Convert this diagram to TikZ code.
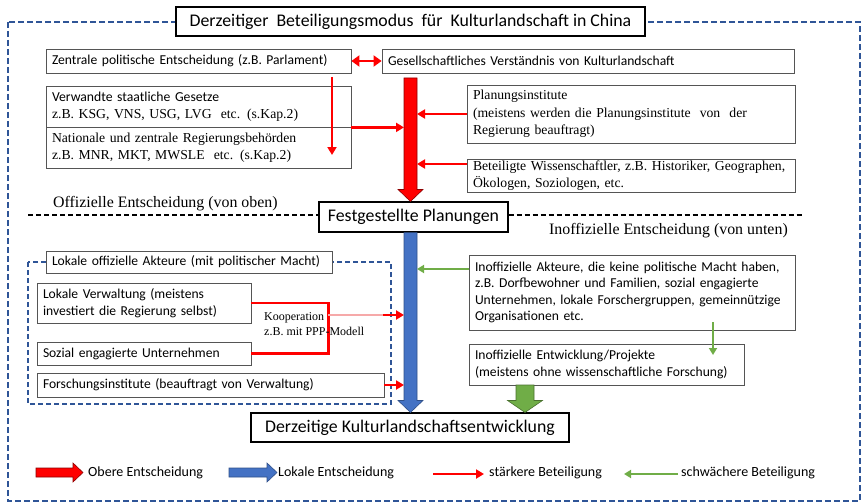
\documentclass[tikz,border=0pt]{standalone}
\usepackage{fontspec}
\setmainfont{Liberation Serif}
\setsansfont{Carlito}
\usetikzlibrary{arrows.meta,calc}

\definecolor{hired}{HTML}{FF0000}
\definecolor{lokblue}{HTML}{4472C4}
\definecolor{weakgreen}{HTML}{70AD47}
\definecolor{frameblue}{HTML}{2F5597}
\definecolor{softred}{HTML}{F6A9A9}
\definecolor{boxline}{HTML}{555555}

% broad block arrows: style, start, tip, shaft half width, head half width, head length
\newcommand\fatarrowV[6]{%
  \path[#1] let \p1=(#2), \p2=(#3) in
    ({\x1-#4},\y1) -- ({\x1+#4},\y1) -- ({\x1+#4},{\y2+#6}) -- ({\x1+#5},{\y2+#6})
    -- (\x1,\y2) -- ({\x1-#5},{\y2+#6}) -- ({\x1-#4},{\y2+#6}) -- cycle;}
\newcommand\fatarrowH[6]{%
  \path[#1] let \p1=(#2), \p2=(#3) in
    (\x1,{\y1+#4}) -- ({\x2-#6},{\y1+#4}) -- ({\x2-#6},{\y1+#5}) -- (\x2,\y1)
    -- ({\x2-#6},{\y1-#5}) -- ({\x2-#6},{\y1-#4}) -- (\x1,{\y1-#4}) -- cycle;}

\tikzset{
  box/.style={draw=boxline, line width=0.8pt, fill=white, inner xsep=6pt, inner ysep=1pt,
    align=left, font=\sffamily\fontsize{13.6}{16.5}\selectfont},
  serifbox/.style={box, font=\rmfamily\fontsize{13.7}{17.5}\selectfont},
  headbox/.style={draw=black, line width=1.1pt, fill=white, inner xsep=6pt, inner ysep=0pt,
    font=\sffamily\fontsize{17.8}{20}\selectfont},
  strongarrow/.style={draw=hired, line width=2.2pt, -{Triangle[length=8pt,width=9pt]}},
  weakarrow/.style={draw=weakgreen, line width=2pt, -{Triangle[length=7pt,width=8pt]}},
  bigred/.style={fill=hired, draw=red!55!black, line width=0.6pt},
  bigblue/.style={fill=lokblue, draw=lokblue!70!black, line width=0.6pt},
  biggreen/.style={fill=weakgreen, draw=weakgreen!65!black, line width=0.6pt},
  sidelabel/.style={anchor=west, inner sep=0pt, font=\rmfamily\fontsize{15.9}{18}\selectfont},
  legendtext/.style={anchor=west, inner sep=0pt, font=\sffamily\fontsize{14}{16}\selectfont},
  frame/.style={draw=frameblue, line width=1.4pt, dash pattern=on 6pt off 3pt},
  groupframe/.style={draw=frameblue, line width=1.1pt, dash pattern=on 5pt off 3pt},
  divider/.style={draw=black, line width=1.1pt, dash pattern=on 5pt off 3pt},
}

\begin{document}
\begin{tikzpicture}[x=1pt, y=-1pt]
\useasboundingbox (0,0) rectangle (863,503);

% outer frame and local group frame
\draw[frame] (8,22) rectangle (860,501);
\draw[groupframe] (28,262) rectangle (391,404);

% heading
\node[headbox, minimum width=469pt, minimum height=29pt] (title) at (410.5,21.5)
  {Derzeitiger~ Beteiligungsmodus~ für~ Kulturlandschaft in China};

% upper (official) level
\node[box, text width=293pt, minimum height=24pt] (zentral) at (198.5,61)
  {Zentrale politische Entscheidung (z.B. Parlament)};
\node[box, text width=400pt, minimum height=24pt] (gesell) at (588,61)
  {Gesellschaftliches Verständnis von Kulturlandschaft};
\node[serifbox, text width=293pt, minimum height=41pt] (gesetze) at (198.5,106.5)
  {{\sffamily Verwandte staatliche Gesetze}\\z.B. KSG, VNS, USG, LVG~ etc. (s.Kap.2)};
\node[serifbox, text width=293pt, minimum height=41pt] (behoerden) at (198.5,147.5)
  {Nationale und zentrale Regierungsbehörden\\z.B. MNR, MKT, MWSLE~ etc. (s.Kap.2)};
\node[serifbox, text width=316pt, minimum height=58pt] (planung) at (631,114)
  {Planungsinstitute\\(meistens werden die Planungsinstitute~ von~ der\\Regierung beauftragt)};
\node[serifbox, text width=316pt, minimum height=33pt] (wiss) at (631,175.5)
  {Beteiligte Wissenschaftler, z.B. Historiker, Geographen,\\Ökologen, Soziologen, etc.};

\node[headbox, minimum width=189pt, minimum height=30pt] (fest) at (413.5,217)
  {Festgestellte Planungen};

% dividing line between the two levels
\coordinate (dashL) at (28,215);
\coordinate (dashR) at (804,215);
\draw[divider] (dashL) -- (dashL -| fest.west);
\draw[divider] (fest.east |- dashR) -- (dashR);
\node[sidelabel] (oben) at (53,204) {Offizielle Entscheidung (von oben)};
\node[sidelabel] (unten) at (549,231) {Inoffizielle Entscheidung (von unten)};

% lower (local) level
\node[box, text width=274pt, minimum height=22pt] (lokaltitle) at (189,262)
  {Lokale offizielle Akteure (mit politischer Macht)};
\node[box, text width=202pt, minimum height=40pt] (verwaltung) at (144,303)
  {Lokale Verwaltung (meistens\\investiert die Regierung selbst)};
\node[box, text width=202pt, minimum height=23pt] (sozial) at (144,353.5)
  {Sozial engagierte Unternehmen};
\node[box, text width=335pt, minimum height=24pt] (forsch) at (210.5,385)
  {Forschungsinstitute (beauftragt von Verwaltung)};
\node[box, text width=314pt, minimum height=75pt] (inoffakt) at (632,292.5)
  {Inoffizielle Akteure, die keine politische Macht haben,\\z.B. Dorfbewohner und Familien, sozial engagierte\\Unternehmen, lokale Forschergruppen, gemeinnützige\\Organisationen etc.};
\node[box, text width=263pt, minimum height=41pt] (inoffentw) at (606.5,364.5)
  {Inoffizielle Entwicklung/Projekte\\(meistens ohne wissenschaftliche Forschung)};
\node[headbox, minimum width=318pt, minimum height=29pt] (derzeit) at (410,427.5)
  {Derzeitige Kulturlandschaftsentwicklung};

% main vertical flow
\coordinate (axis) at (410.5,0);
\coordinate (shaftL) at (404,0);
\coordinate (shaftR) at (417,0);
\coordinate (redtop) at (410.5,78);
\fatarrowV{bigred}{redtop}{fest.north -| axis}{6.5pt}{12.5pt}{12pt}
\fatarrowV{bigblue}{fest.south -| axis}{derzeit.north -| axis}{6.5pt}{12.5pt}{12pt}
\coordinate (greentop) at (525,385);
\fatarrowV{biggreen}{greentop}{derzeit.north -| greentop}{9pt}{17.5pt}{12pt}

% upper connectors
\draw[hired, line width=2.6pt, {Triangle[length=8pt,width=11pt]}-{Triangle[length=8pt,width=11pt]}]
  (zentral.east) -- (gesell.west);
\coordinate (lawdown) at (332,155);
\draw[strongarrow, line width=1.8pt] (lawdown |- 0,77) -- (lawdown);
\draw[strongarrow] (gesetze.south east) -- (gesetze.south east -| shaftL);
\draw[strongarrow] (planung.west) -- (planung.west -| shaftR);
\coordinate (wissin) at (467,164);
\draw[strongarrow] (wissin) -- (wissin -| shaftR);

% lower connectors
\draw[hired, line width=2.4pt] (verwaltung.east) -- ++(77,0) |- (sozial.east);
\coordinate (koop) at (328,315);
\coordinate (koopend) at (383,315);
\draw[softred, line width=2.4pt] (koop) -- (koopend);
\draw[strongarrow] (koopend) -- (koopend -| shaftL);
\node[anchor=north west, inner sep=0pt, align=left, font=\rmfamily\fontsize{12}{15}\selectfont]
  (kooptext) at (264,312) {Kooperation\\z.B. mit PPP-Modell};
\draw[strongarrow] (forsch.east) -- (forsch.east -| shaftL);
\coordinate (aktout) at (469,269);
\draw[weakarrow] (aktout) -- (aktout -| shaftR);
\coordinate (aktdown) at (713,322);
\draw[weakarrow] (aktdown) -- (713,355);

% legend
\node[legendtext] (lg1) at (88,473) {Obere Entscheidung};
\node[legendtext] (lg2) at (278,473) {Lokale Entscheidung};
\node[legendtext] (lg3) at (489,473) {stärkere Beteiligung};
\node[legendtext] (lg4) at (681,473) {schwächere Beteiligung};
\coordinate (lgs1) at (36,472.5);
\coordinate (lgs2) at (229,472.5);
\coordinate (lgs3) at (433,474);
\coordinate (lgs4) at (624,474);
\fatarrowH{bigred}{lgs1}{83,472.5}{4.5pt}{9.5pt}{10pt}
\fatarrowH{bigblue}{lgs2}{277,472.5}{4.5pt}{9.5pt}{10pt}
\draw[strongarrow] (lgs3) -- ($(lgs3 -| lg3.west)+(-5,0)$);
\draw[weakarrow] ($(lg4.west |- lgs4)+(-3,0)$) -- (lgs4);
\end{tikzpicture}
\end{document}
